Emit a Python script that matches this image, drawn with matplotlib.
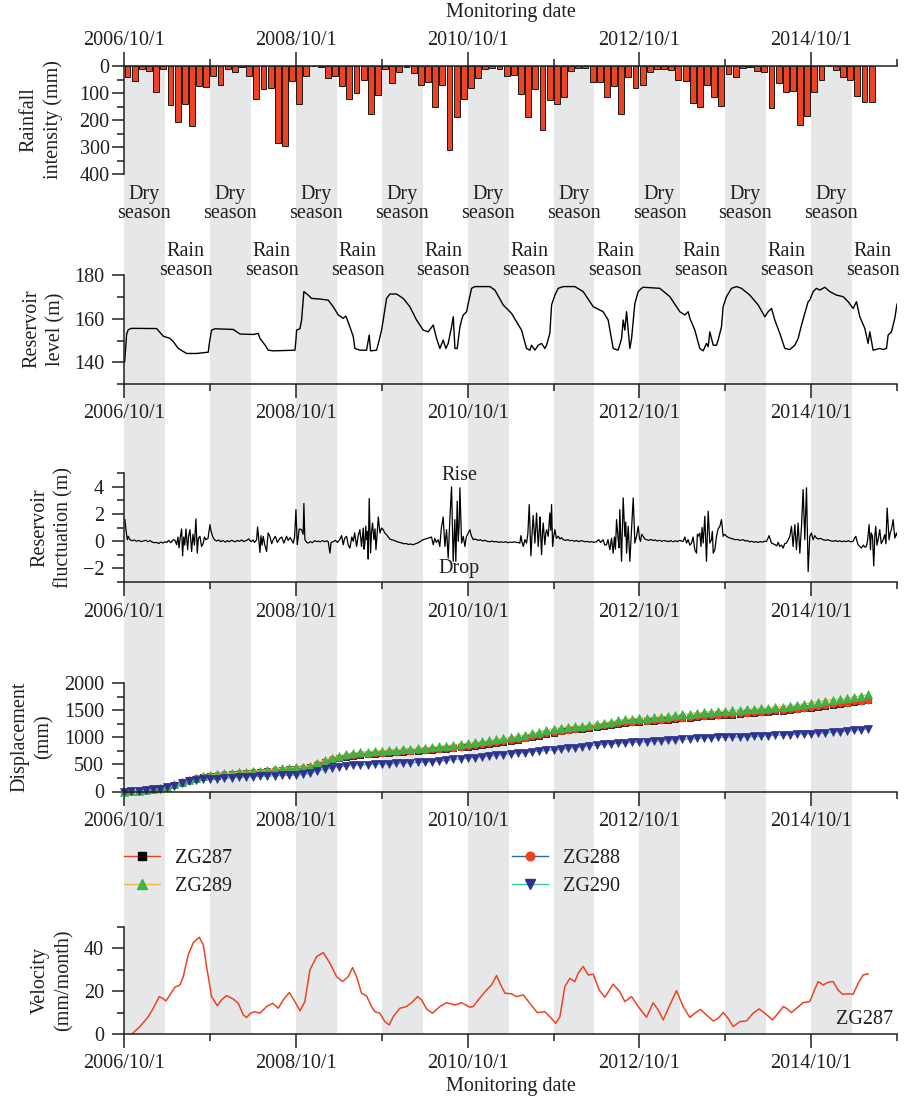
import matplotlib
matplotlib.use('Agg')
import matplotlib.pyplot as plt
import matplotlib.transforms as mtransforms
from matplotlib.lines import Line2D
from matplotlib.ticker import FixedLocator, MultipleLocator

# ---------------- data ----------------
date_labels = ['2006/10/1', '2008/10/1', '2010/10/1', '2012/10/1', '2014/10/1']
major_months = [0, 24, 48, 72, 96]          # months since 2006/10/1
minor_months = [12, 36, 60, 84, 108]
dry_start = [0, 12, 24, 36, 48, 60, 72, 84, 96]
dry_len = 5.7
rain_label_month = [8.6, 20.6, 32.6, 44.6, 56.6, 68.6, 80.6, 92.6, 104.6]
dry_label_month = [2.8, 14.8, 26.8, 38.8, 50.8, 62.8, 74.8, 86.8, 98.8]

# monthly rainfall (mm), month index 0 = 2006/10
rain_mm = [42, 56, 11, 20, 98, 11, 146, 209, 142, 224, 74, 78,
           38, 69, 11, 22, 3, 37, 122, 87, 80, 285, 298, 57,
           142, 36, 1, 5, 46, 38, 74, 124, 101, 52, 178, 106,
           12, 62, 21, 4, 26, 69, 58, 151, 72, 311, 188, 122,
           83, 43, 11, 7, 11, 37, 35, 105, 189, 87, 236, 126,
           141, 115, 19, 9, 9, 61, 59, 116, 75, 177, 41, 83,
           71, 22, 11, 12, 16, 52, 56, 136, 152, 72, 116, 147,
           30, 42, 9, 3, 19, 22, 156, 63, 98, 93, 218, 184,
           95, 50, 1, 16, 42, 52, 111, 132, 132]

# reservoir level (m)
res_month = [0.05, 0.33, 0.56, 1.02, 4.52, 5.45, 6.38, 6.85, 7.55, 8.24, 8.71, 10.1,
             11.74, 11.88, 12.2, 12.67, 15.23, 16.16, 18.03, 18.72, 18.96, 19.66, 20.12, 20.82,
             23.85, 23.99, 24.08, 24.55, 24.78, 25.1, 25.71, 26.18, 27.34, 28.5, 29.2, 29.9,
             30.6, 30.97, 31.53, 32.0, 32.23, 32.93, 33.86, 34.23, 34.42, 35.26, 35.63, 35.96,
             36.19, 36.66, 37.12, 38.05, 38.98, 39.91, 40.85, 41.78, 42.48, 43.18, 43.64, 44.11,
             44.57, 44.95, 45.27, 45.74, 45.98, 46.21, 46.53, 46.91, 47.14, 47.37, 47.84, 48.07,
             48.54, 49.0, 51.1, 51.8, 52.96, 54.13, 54.83, 55.52, 56.22, 56.69, 56.92, 57.39,
             57.85, 58.32, 58.78, 59.02, 59.48, 59.72, 60.18, 60.65, 61.35, 62.98, 64.14, 65.54,
             66.93, 67.63, 68.33, 69.03, 69.5, 69.73, 69.96, 70.2, 70.43, 70.66, 70.9, 71.36,
             71.83, 72.29, 72.52, 74.85, 76.25, 77.65, 78.35, 78.81, 79.05, 79.74, 80.44, 80.91,
             81.37, 81.61, 81.84, 82.31, 82.77, 83.0, 83.47, 83.7, 84.17, 84.87, 85.57, 86.26,
             87.43, 88.59, 89.53, 89.99, 90.46, 90.92, 91.62, 92.32, 93.02, 93.72, 94.18, 94.65,
             95.58, 95.81, 96.28, 96.74, 97.21, 97.91, 98.61, 99.54, 100.47, 101.17, 101.87, 102.33,
             102.8, 103.5, 103.96, 104.2, 104.66, 105.6, 106.06, 106.53, 106.76, 107.23, 107.69, 108.0]
res_level = [140.3, 153.0, 155.0, 155.6, 155.5, 152.0, 151.0, 149.5, 146.4, 145.0, 144.1, 144.1,
             144.7, 148.7, 154.8, 155.4, 155.1, 153.0, 152.8, 153.3, 151.0, 148.0, 145.6, 145.3,
             145.6, 150.2, 154.8, 155.4, 159.4, 172.4, 170.8, 169.3, 169.0, 168.5, 165.5, 161.7,
             160.2, 161.2, 156.3, 151.8, 146.4, 145.6, 145.6, 152.5, 145.3, 145.6, 150.2, 154.8,
             159.4, 169.3, 171.3, 171.3, 169.3, 165.5, 159.4, 154.8, 154.0, 157.1, 151.0, 146.4,
             150.2, 146.4, 148.7, 156.3, 160.9, 146.4, 146.4, 156.3, 159.4, 161.7, 163.2, 167.0,
             173.9, 174.7, 174.7, 173.1, 166.3, 162.4, 158.6, 154.8, 146.4, 145.6, 147.9, 145.6,
             147.9, 148.7, 146.4, 147.9, 153.3, 166.3, 170.8, 173.9, 174.7, 174.7, 172.4, 165.5,
             163.2, 159.4, 146.4, 145.6, 150.9, 159.4, 154.8, 163.2, 154.8, 146.4, 150.9, 167.0,
             172.4, 173.9, 174.4, 173.9, 170.1, 163.2, 161.7, 163.2, 160.2, 154.8, 146.4, 145.3,
             148.7, 147.2, 154.0, 147.9, 147.9, 150.2, 156.3, 165.5, 170.1, 173.9, 174.7, 173.9,
             170.8, 166.3, 160.9, 163.2, 164.7, 159.4, 153.3, 146.4, 145.9, 147.9, 150.9, 157.1,
             167.8, 168.5, 172.4, 173.9, 173.1, 174.4, 172.4, 170.8, 170.1, 167.8, 164.7, 167.8,
             160.9, 155.6, 148.7, 154.0, 145.6, 146.4, 145.9, 146.4, 152.5, 154.0, 160.2, 166.7]

# reservoir fluctuation (m/day)
fl_month = [
    0.09, 0.23, 0.42, 0.56, 0.79, 1.1, 1.4, 1.7, 2.0, 2.3, 2.65, 3.0, 3.3, 3.6, 3.9, 4.2, 4.52, 4.8, 5.1, 5.4, 5.7, 5.92, 6.2, 6.5, 6.85, 7.1,
    7.31, 7.5, 7.65, 7.8, 8.01, 8.15, 8.3, 8.45, 8.62, 8.85, 9.0, 9.18, 9.41, 9.6, 9.8, 10.01, 10.2, 10.35, 10.57, 10.8, 11.04, 11.2, 11.41, 11.7, 11.97, 12.1, 12.34, 12.6,
    12.9, 13.2, 13.5, 13.8, 14.1, 14.4, 14.7, 15.0, 15.23, 15.5, 15.8, 16.1, 16.4, 16.7, 17.09, 17.4, 17.7, 18.0, 18.2,
    18.49, 18.63, 18.96, 19.1, 19.25, 19.42, 19.6, 19.89, 20.1, 20.35, 20.6, 20.82, 21.1, 21.4, 21.75, 22.0, 22.3, 22.68, 22.9, 23.2, 23.61, 23.8, 23.99, 24.17, 24.45, 24.78, 25.0, 25.1, 25.24,
    25.5, 25.71, 26.0, 26.3, 26.6, 26.9, 27.11, 27.4, 27.7, 28.0, 28.3, 28.5, 28.74, 28.9, 29.2, 29.5, 29.8, 30.1,
    30.37, 30.6, 30.8, 31.07, 31.3, 31.53, 31.8, 32.0, 32.2, 32.46, 32.7, 32.93, 33.16, 33.4, 33.5, 33.63, 33.75, 33.86, 34.0, 34.09, 34.23, 34.42, 34.55, 34.7, 34.89, 35.05, 35.17, 35.35, 35.5, 35.73, 35.96, 36.19, 36.4, 36.66, 36.9, 37.1,
    37.36, 37.7, 38.0, 38.3, 38.52, 38.8, 39.1, 39.4, 39.7, 40.0, 40.38, 40.7, 41.0, 41.3, 41.6, 41.78, 42.1, 42.4, 42.7,
    42.94, 43.18, 43.4, 43.6, 43.88, 44.1, 44.3, 44.57, 44.81, 45.04, 45.27, 45.5, 45.74, 45.97, 46.2, 46.34, 46.53, 46.67, 46.8, 46.91, 47.14, 47.37, 47.61, 47.8, 48.07, 48.3, 48.5, 48.77,
    49.0, 49.24, 49.5, 49.8, 50.1, 50.4, 50.7, 51.1, 51.4, 51.7, 52.0, 52.3, 52.6, 52.96, 53.3, 53.6, 53.9, 54.2, 54.5, 54.83, 55.1, 55.29, 55.43, 55.6, 55.76, 56.0, 56.22, 56.4,
    56.6, 56.83, 57.0, 57.15, 57.39, 57.5, 57.62, 57.85, 58.0, 58.09, 58.32, 58.45, 58.55, 58.78, 58.9, 59.02, 59.25, 59.48, 59.6, 59.72, 59.86, 60.0, 60.18, 60.4, 60.65, 60.9, 61.1,
    61.35, 61.7, 62.0, 62.3, 62.6, 62.9, 63.2, 63.5, 63.8, 64.14, 64.4, 64.7, 65.0, 65.3, 65.6, 66.0, 66.3, 66.6, 66.93, 67.15,
    67.4, 67.6, 67.87, 68.1, 68.33, 68.5, 68.65, 68.8, 69.03, 69.15, 69.26, 69.5, 69.73, 69.96, 70.1, 70.2, 70.43, 70.66, 70.9, 71.13, 71.36, 71.59, 71.83, 72.0, 72.15, 72.3, 72.52, 72.75,
    72.99, 73.3, 73.6, 73.9, 74.2, 74.5, 74.8, 75.1, 75.4, 75.78, 76.1, 76.4, 76.7, 77.0, 77.3, 77.6, 77.9, 78.11, 78.35, 78.58, 78.8, 79.05, 79.28,
    79.5, 79.74, 79.98, 80.1, 80.21, 80.44, 80.6, 80.75, 80.91, 81.14, 81.37, 81.61, 81.84, 82.07, 82.2, 82.31, 82.54, 82.77, 83.0, 83.24, 83.47, 83.7, 83.9, 84.17,
    84.5, 84.8, 85.1, 85.4, 85.7, 86.0, 86.5, 86.8, 87.1, 87.4, 87.7, 88.0, 88.3, 88.6, 88.9, 89.2, 89.5, 89.76, 90.13, 90.3,
    90.46, 90.7, 90.92, 91.2, 91.4, 91.62, 91.85, 92.09, 92.3, 92.55, 92.8, 93.02, 93.25, 93.48, 93.72, 93.95, 94.18, 94.42, 94.65, 94.88, 95.11, 95.35, 95.58, 95.81, 96.04, 96.28, 96.5, 96.74, 97.0, 97.3,
    97.68, 98.0, 98.3, 98.7, 99.07, 99.4, 99.7, 100.0, 100.3, 100.6, 100.9, 101.2, 101.5, 101.87, 102.05, 102.24,
    102.4, 102.57, 102.8, 103.03, 103.3, 103.5, 103.73, 103.9, 104.1, 104.29, 104.4, 104.57, 104.75, 104.9, 105.03, 105.2, 105.36, 105.59, 105.8, 106.06, 106.29, 106.45, 106.62, 106.89, 107.05, 107.22, 107.46, 107.69, 107.92, 108.0,
]
fl_value = [
    1.58, 0.84, 0.10, 0.35, 0.10, 0.02, 0.08, -0.02, 0.05, -0.04, 0.0, 0.06, -0.05, 0.03, -0.08, -0.12, -0.1, -0.18, -0.08, -0.14, -0.06, -0.1, 0.05, -0.12, 0.1, 0.05,
    -0.27, 0.3, -0.5, 0.2, 0.89, -1.09, 0.3, -0.3, 0.89, -0.64, 0.4, 0.84, -0.77, 0.5, -0.3, 1.63, -0.89, 0.2, 0.35, -0.4, -0.15, 0.3, 0.1, 0.2, 1.21, 0.8, 0.35, 0.1,
    0.0, 0.08, -0.05, 0.05, -0.08, 0.03, -0.05, 0.06, 0.0, -0.06, 0.05, -0.03, 0.08, -0.04, 0.05, 0.15, -0.05, 0.08, -0.1,
    0.1, 1.04, -0.84, 0.4, -0.3, 0.35, -0.2, -0.77, 0.6, 0.35, -0.2, 0.1, 0.35, -0.1, 0.2, 0.3, -0.15, 0.35, 0.05, 0.25, -0.15, 0.3, 2.32, -0.27, 0.89, 0.84, 0.5, 2.77, 0.1,
    -0.1, -0.15, -0.05, -0.12, 0.03, -0.05, 0.0, -0.06, 0.04, -0.05, 0.02, -0.05, -0.89, -0.1, -0.05, 0.05, -0.1, 0.1,
    0.4, -0.27, 0.2, 0.35, -0.3, -0.52, 0.3, -0.02, 0.6, -0.4, 0.4, 0.84, -0.4, 0.96, -0.6, -0.15, 1.1, 0.1, 0.7, -1.33, 3.14, -0.89, 0.6, 1.33, 0.1, 0.9, -0.64, 0.6, 1.78, 0.59, 0.96, 0.84, 0.6, 0.47, 0.3, 0.15,
    0.1, 0.05, -0.02, -0.08, -0.1, -0.15, -0.2, -0.18, -0.25, -0.22, -0.27, -0.2, -0.15, -0.05, 0.05, 0.1, 0.15, 0.2, 0.25,
    0.3, -0.27, 0.2, -0.1, 0.1, -0.4, 0.9, 1.78, -0.4, 0.84, -1.26, 1.58, 4.0, -1.5, 1.58, -1.5, 2.94, -0.02, 1.2, 3.93, -0.15, 0.35, -0.4, 0.3, 0.59, 0.84, 0.4, 0.1,
    0.15, 0.1, 0.05, 0.1, 0.0, 0.06, -0.02, -0.05, 0.0, -0.06, -0.03, -0.1, -0.06, -0.1, -0.05, -0.12, -0.08, -0.1, -0.06, -0.1, -0.12, -0.15, 0.4, -0.1, -0.4, 0.1, -0.15, 0.5,
    2.69, -1.09, 0.6, 1.88, -0.15, 0.9, 2.07, -0.4, 0.8, 1.78, -1.01, 0.6, 1.33, -0.27, 0.5, 0.84, 0.35, 2.07, 0.8, 2.69, -0.4, 0.3, 0.84, 0.2, 0.35, 0.15, 0.25,
    0.1, 0.05, 0.1, 0.02, 0.06, -0.02, 0.04, -0.04, 0.02, 0.0, -0.06, -0.02, -0.08, -0.04, -0.1, -0.05, 0.1, -0.1, 0.1, -0.3,
    -0.27, 0.1, -0.64, 0.2, -0.89, 0.3, -0.6, 1.58, 0.1, -0.5, 2.32, -1.5, 3.19, 0.35, 1.4, -0.89, 1.09, -1.5, 0.84, 3.19, -0.15, 0.35, 1.09, 0.2, -0.02, 0.5, 0.35, 0.15,
    0.1, 0.05, 0.12, 0.04, 0.08, 0.0, 0.06, -0.02, 0.04, 0.0, -0.04, 0.03, -0.06, 0.02, -0.04, 0.05, 0.0, -0.02, 0.3, -0.15, 0.1, -0.3, -0.15,
    0.3, -0.64, -0.89, 0.5, 0.35, 0.59, -0.4, 1.0, -0.15, 1.83, -1.5, 2.2, -0.15, 0.1, 0.7, -0.89, -0.64, 0.35, 0.9, 1.09, 1.58, 0.35, 0.5, 0.35,
    0.25, 0.2, 0.15, 0.1, 0.12, 0.05, 0.1, 0.0, 0.04, -0.06, -0.02, -0.08, -0.05, -0.1, -0.04, -0.08, -0.02, -0.02, 0.4, 0.1,
    -0.15, -0.2, -0.27, -0.35, -0.1, -0.4, -0.3, -0.52, -0.2, -0.15, 0.1, 0.35, 1.09, -0.4, 1.21, -0.64, 1.33, -0.89, 1.09, 3.8, 0.1, 3.93, -2.25, 0.35, 0.59, 0.1, 0.4, 0.22, 0.15, 0.2,
    0.1, 0.05, 0.1, 0.02, -0.02, 0.04, -0.04, 0.02, -0.05, 0.0, -0.04, 0.02, -0.05, -0.02, 0.2, 0.35,
    0.0, -0.27, -0.4, -0.52, -0.3, -0.45, -0.4, 0.1, 1.21, -0.64, 0.6, 0.35, -1.83, 0.4, 1.09, -0.3, 0.1, 0.84, -0.2, 0.1, 0.47, -0.2, 2.44, 0.1, 0.6, 0.84, 1.58, 0.22, 0.59, 0.4,
]

# cumulative displacement (mm), monthly from 2006/10
disp_month = list(range(105))
zg287 = [0, 4, 10, 22, 40, 60, 85, 120, 165, 205, 240, 265,
         280, 295, 310, 320, 328, 338, 348, 358, 370, 385, 398, 408,
         412, 420, 445, 490, 540, 585, 615, 640, 660, 675, 688, 698,
         708, 716, 724, 732, 740, 748, 758, 770, 782, 792, 800, 815,
         830, 845, 862, 880, 900, 920, 940, 960, 980, 1005, 1030, 1060,
         1090, 1115, 1135, 1148, 1160, 1175, 1190, 1210, 1232, 1255, 1268, 1276,
         1285, 1295, 1305, 1315, 1325, 1338, 1350, 1362, 1375, 1388, 1398, 1405,
         1412, 1422, 1432, 1442, 1452, 1462, 1472, 1485, 1495, 1508, 1520, 1535,
         1548, 1565, 1582, 1600, 1615, 1630, 1650, 1665, 1685]
zg288 = [0, 4, 11, 23, 42, 62, 88, 124, 170, 210, 244, 270,
         286, 300, 315, 326, 335, 345, 355, 366, 378, 392, 405, 416,
         420, 430, 455, 500, 552, 596, 626, 652, 672, 686, 698, 708,
         718, 726, 734, 742, 750, 758, 768, 780, 792, 802, 812, 826,
         842, 858, 875, 893, 913, 933, 953, 973, 994, 1018, 1044, 1073,
         1102, 1126, 1146, 1160, 1172, 1187, 1202, 1222, 1244, 1266, 1280, 1289,
         1298, 1308, 1318, 1328, 1338, 1350, 1363, 1375, 1388, 1400, 1410, 1418,
         1425, 1435, 1445, 1455, 1465, 1476, 1486, 1498, 1509, 1521, 1534, 1548,
         1562, 1578, 1596, 1614, 1630, 1645, 1664, 1680, 1700]
zg289 = [0, 5, 12, 25, 45, 65, 90, 130, 180, 220, 255, 285,
         305, 320, 335, 345, 355, 365, 375, 385, 398, 412, 428, 440,
         445, 455, 480, 530, 580, 625, 660, 690, 710, 722, 735, 745,
         755, 762, 770, 778, 788, 798, 808, 820, 832, 848, 862, 880,
         895, 910, 925, 945, 965, 985, 1005, 1025, 1045, 1075, 1105, 1135,
         1160, 1180, 1195, 1205, 1215, 1230, 1245, 1265, 1290, 1315, 1335, 1345,
         1355, 1365, 1375, 1385, 1395, 1410, 1425, 1440, 1455, 1465, 1475, 1482,
         1490, 1500, 1510, 1520, 1530, 1540, 1550, 1560, 1570, 1585, 1600, 1620,
         1640, 1660, 1680, 1695, 1705, 1720, 1745, 1770, 1795]
zg290 = [0, 4, 10, 20, 38, 55, 78, 110, 150, 185, 210, 225,
         235, 240, 248, 255, 262, 270, 275, 280, 285, 290, 296, 300,
         305, 315, 340, 375, 410, 440, 460, 475, 485, 492, 498, 503,
         508, 512, 518, 524, 530, 538, 545, 552, 560, 575, 592, 605,
         615, 628, 640, 655, 668, 680, 695, 708, 720, 735, 748, 758,
         768, 780, 795, 810, 828, 845, 860, 872, 882, 892, 900, 908,
         915, 922, 930, 938, 945, 955, 965, 972, 980, 988, 995, 1000,
         1003, 1006, 1010, 1015, 1020, 1025, 1032, 1040, 1045, 1050, 1055, 1062,
         1070, 1078, 1085, 1095, 1105, 1115, 1128, 1142, 1160]

# ZG287 velocity (mm/month)
vel_month = [1.02, 2.19, 3.35, 4.05, 4.89, 5.36, 5.82, 6.38, 7.08, 7.78, 8.24, 8.94,
             9.64, 10.48, 11.04, 11.5, 12.2, 12.99, 13.6, 14.3, 15.23, 15.93, 16.63, 17.09,
             17.65, 18.26, 18.96, 19.89, 20.73, 21.52, 22.22, 23.06, 23.85, 24.55, 25.24, 25.94,
             26.88, 27.81, 28.74, 29.67, 30.51, 31.3, 31.9, 32.46, 33.16, 33.86, 34.56, 35.03,
             35.72, 36.42, 37.03, 37.59, 38.52, 39.45, 40.15, 40.99, 41.55, 42.25, 43.08, 44.11,
             45.04, 46.21, 47.14, 48.3, 48.77, 49.47, 50.63, 51.33, 52.03, 52.5, 53.2, 54.13,
             54.83, 55.76, 56.69, 57.71, 58.78, 59.48, 60.32, 60.88, 61.58, 62.28, 62.98, 63.44,
             64.14, 64.84, 65.54, 66.38, 67.17, 68.33, 69.26, 69.96, 70.9, 71.83, 72.99, 73.92,
             74.62, 75.32, 76.25, 77.18, 78.11, 79.04, 79.74, 80.54, 81.37, 82.31, 83.0, 83.7,
             84.4, 85.1, 86.03, 86.96, 87.89, 88.73, 89.53, 90.6, 91.39, 92.09, 92.55, 93.25,
             93.95, 94.88, 95.81, 96.51, 96.98, 97.68, 98.38, 99.07, 99.77, 100.38, 101.17, 101.87,
             102.57, 103.26, 103.96]
vel_value = [0.0, 3.6, 8.2, 12.1, 17.5, 16.7, 15.5, 18.3, 21.9, 22.9, 26.8, 36.9,
             42.6, 45.1, 41.6, 31.5, 17.5, 13.3, 16.0, 18.0, 16.4, 14.4, 9.0, 7.8,
             9.8, 10.5, 9.8, 12.9, 14.4, 12.1, 16.0, 19.4, 15.2, 10.9, 15.2, 29.9,
             36.1, 38.0, 33.0, 26.8, 24.5, 26.8, 31.0, 26.8, 19.1, 17.8, 12.9, 10.5,
             9.8, 5.9, 4.3, 8.2, 12.1, 12.9, 14.7, 17.5, 16.0, 11.8, 9.8, 12.9,
             14.7, 13.6, 14.7, 12.6, 12.9, 16.0, 20.6, 22.9, 27.3, 23.7, 19.1, 18.8,
             17.5, 18.3, 14.4, 10.1, 10.5, 8.2, 5.1, 8.2, 22.2, 26.0, 24.5, 28.4,
             31.5, 27.6, 27.9, 20.6, 17.2, 23.3, 19.8, 15.2, 17.5, 12.9, 7.9, 14.7,
             11.3, 6.7, 13.6, 20.3, 12.9, 7.8, 9.8, 11.6, 9.0, 6.2, 7.4, 10.1,
             7.4, 3.6, 5.9, 6.2, 9.8, 11.8, 9.8, 6.7, 9.8, 12.9, 12.1, 10.1,
             12.1, 14.7, 15.2, 20.9, 24.5, 22.9, 24.2, 24.5, 20.6, 18.6, 18.8, 18.6,
             23.7, 27.6, 28.1]

# ---------------- style ----------------
plt.rcParams['font.family'] = ['Liberation Serif', 'DejaVu Serif']
plt.rcParams['font.size'] = 14.5
TXT = '#231f20'
RED = '#ee4323'
GRAY = '#e6e7e8'
FS = 14.5

W, H = 905, 1104
fig = plt.figure(figsize=(W / 100, H / 100), dpi=100)
XL, XR = 124.3, 897.0


def fy(py):
    return 1 - py / H


def panel(top, bottom, xpos='bottom', ypad=5.5, xpad=4):
    ax = fig.add_axes([XL / W, 1 - bottom / H, (XR - XL) / W, (bottom - top) / H])
    ax.set_xlim(0, 108)
    ax.patch.set_visible(False)
    ax.set_zorder(2)
    for s in ax.spines.values():
        s.set_color(TXT)
        s.set_linewidth(1.1)
    ax.spines['right'].set_visible(False)
    ax.spines['top' if xpos == 'bottom' else 'bottom'].set_visible(False)
    ax.xaxis.set_major_locator(FixedLocator(major_months))
    ax.xaxis.set_minor_locator(FixedLocator(minor_months))
    ax.set_xticklabels(date_labels)
    if xpos == 'top':
        ax.xaxis.tick_top()
    ax.tick_params(which='both', direction='out', color=TXT, labelcolor=TXT, width=1.1,
                   labelsize=FS)
    ax.tick_params(axis='x', which='major', length=10, pad=xpad)
    ax.tick_params(axis='x', which='minor', length=5)
    ax.tick_params(axis='y', which='major', length=9, pad=ypad)
    ax.tick_params(axis='y', which='minor', length=5)
    return ax


# background dry-season bands spanning all panels
bg = fig.add_axes([XL / W, fy(1034.3), (XR - XL) / W, (1034.3 - 65) / H])
bg.set_xlim(0, 108)
bg.set_ylim(0, 1)
bg.axis('off')
bg.set_zorder(0)
for s in dry_start:
    bg.axvspan(s, s + dry_len, color=GRAY, lw=0)
tr = mtransforms.blended_transform_factory(bg.transData, fig.transFigure)
for m in dry_label_month:
    bg.text(m, fy(204), 'Dry\nseason', transform=tr, ha='center', va='center',
            fontsize=FS, color=TXT, linespacing=0.95)
for m in rain_label_month:
    bg.text(m, fy(261), 'Rain\nseason', transform=tr, ha='center', va='center',
            fontsize=FS, color=TXT, linespacing=0.95)

# 1 rainfall
ax1 = panel(66, 174, xpos='top', ypad=1.5, xpad=1.5)
ax1.bar([i + 0.45 for i in range(len(rain_mm))], rain_mm, width=0.82, color=RED,
        edgecolor='#1a1a1a', linewidth=0.7)
ax1.set_ylim(400, 0)
ax1.yaxis.set_major_locator(MultipleLocator(100))
ax1.yaxis.set_minor_locator(MultipleLocator(50))

# 2 reservoir level
ax2 = panel(275, 384.3)
ax2.plot(res_month, res_level, color='black', lw=1.0)
ax2.set_ylim(130, 180)
ax2.yaxis.set_major_locator(FixedLocator([140, 160, 180]))
ax2.yaxis.set_minor_locator(FixedLocator([130, 150, 170]))

# 3 reservoir fluctuation
ax3 = panel(473.3, 581.7, xpad=5)
ax3.plot(fl_month, fl_value, color='black', lw=0.9)
ax3.set_ylim(-3, 5)
ax3.yaxis.set_major_locator(FixedLocator([-2, 0, 2, 4]))
ax3.yaxis.set_minor_locator(FixedLocator([-3, -1, 1, 3, 5]))
ax3.set_yticklabels(['\u22122', '0', '2', '4'])
tr3 = mtransforms.blended_transform_factory(ax3.transData, fig.transFigure)
ax3.text(46.8, fy(475), 'Rise', transform=tr3, ha='center', va='center', fontsize=FS, color=TXT)
ax3.text(46.8, fy(569), 'Drop', transform=tr3, ha='center', va='center', fontsize=FS, color=TXT)

# 4 displacement
ax4 = panel(683.3, 791.5, xpad=5)
series = [
    ('ZG287', zg287, '#ee3f23', 's', '#000000', 4.6),
    ('ZG288', zg288, '#1b6db0', 'o', '#ee4323', 5.0),
    ('ZG289', zg289, '#f6b53b', '^', '#3bb54a', 5.6),
    ('ZG290', zg290, '#3fc3a5', 'v', '#2e3192', 5.6),
]
handles = {}
for name, vals, lc, mk, mc, ms in series:
    ax4.plot(disp_month, vals, color=lc, lw=1.0, marker=mk, mfc=mc, mec=mc, ms=ms,
             mew=0.5, clip_on=False)
    handles[name] = Line2D([], [], color=lc, lw=1.0, marker=mk, mfc=mc, mec=mc, ms=ms + 1.2)
ax4.set_ylim(0, 2000)
ax4.yaxis.set_major_locator(MultipleLocator(500))
ax4.yaxis.set_minor_locator(MultipleLocator(250))

# legends
for names, x0 in ((['ZG287', 'ZG289'], 124), (['ZG288', 'ZG290'], 512)):
    fig.legend([handles[n] for n in names], names, loc='upper left',
               bbox_to_anchor=(x0 / W, fy(849)), frameon=False, fontsize=FS,
               handlelength=1.8, handletextpad=0.75, labelspacing=0.45,
               borderaxespad=0, borderpad=0, numpoints=1, labelcolor=TXT)

# 5 velocity
ax5 = panel(926.7, 1034.3)
ax5.plot(vel_month, vel_value, color=RED, lw=1.1, solid_joinstyle='round')
ax5.set_ylim(0, 50)
ax5.yaxis.set_major_locator(FixedLocator([0, 20, 40]))
ax5.yaxis.set_minor_locator(FixedLocator([10, 30, 50]))
ax5.text(107.4, 7.0, 'ZG287', ha='right', va='center', fontsize=FS, color=TXT)

# y labels
ylabels = [
    ('Rainfall\nintensity (mm)', 41, 120),
    ('Reservoir\nlevel (m)', 44, 329),
    ('Reservoir\nfluctuation (m)', 52, 528),
    ('Displacement\n(mm)', 32, 737),
    ('Velocity\n(mm/month)', 52, 980),
]
for txt, x, y in ylabels:
    fig.text(x / W, fy(y), txt, rotation=90, ha='center', va='center', fontsize=FS,
             color=TXT, linespacing=1.3, multialignment='center')

fig.text(510.5 / W, fy(12), 'Monitoring date', ha='center', va='center', fontsize=FS, color=TXT)
fig.text(510.5 / W, fy(1087), 'Monitoring date', ha='center', va='center', fontsize=FS, color=TXT)

fig.savefig('out.png', dpi=100)
